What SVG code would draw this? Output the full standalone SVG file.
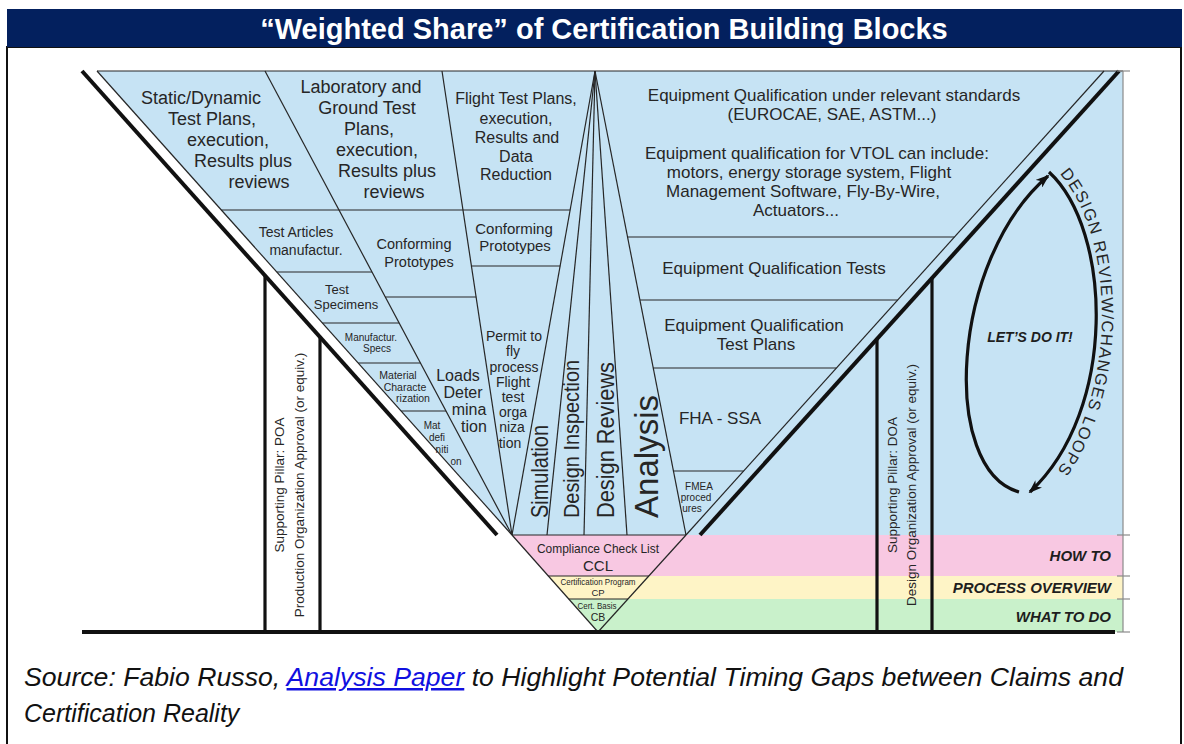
<svg xmlns="http://www.w3.org/2000/svg" width="1184" height="744" viewBox="0 0 1184 744">
  <style>
    .t { font-family: "Liberation Sans", Arial, sans-serif; fill: #262626; text-anchor: middle; }
    .bi { font-family: "Liberation Sans", Arial, sans-serif; font-weight: bold; font-style: italic; fill: #1e1e1e; }
    .ln { stroke: #262626; stroke-width: 1.2; fill: none; }
    .thick { stroke: #111; stroke-width: 4; fill: none; }
    .pillar { stroke: #111; stroke-width: 3.2; fill: none; }
    .scale { stroke: #8a8a8a; stroke-width: 1.2; fill: none; }
    .loop { stroke: #111; stroke-width: 3.2; fill: none; }
  </style>
  <defs>
    <marker id="head" viewBox="0 0 14 10" refX="12" refY="5" markerWidth="14" markerHeight="10" markerUnits="userSpaceOnUse" orient="auto">
      <path d="M0,0 L14,5 L0,10 L4,5 Z" fill="#111"/>
    </marker>
    <path id="loopText" d="M1054,168 C1118,228 1124,412 1034,498"/>
  </defs>

  <!-- page frame and title -->
  <rect x="7" y="47" width="1174" height="700" fill="#fff" stroke="#111" stroke-width="2"/>
  <rect x="7" y="9" width="1175" height="38" fill="#03205E"/>
  <text x="604" y="38.5" font-family="Liberation Sans, Arial, sans-serif" font-size="29" font-weight="bold" fill="#fff" text-anchor="middle">“Weighted Share” of Certification Building Blocks</text>

  <!-- background fields -->
  <g id="fields">
    <polygon points="97,71 1123,71 1123,535 512,535" fill="#C6E3F4"/>
    <polygon points="512,535 1123,535 1123,576 548.4,576" fill="#F8C8E2"/>
    <polygon points="548.4,576 1123,576 1123,599 568.7,599" fill="#FEF4C6"/>
    <polygon points="568.7,599 1123,599 1123,632 598,632" fill="#C9F1CB"/>
  </g>

  <!-- division lines -->
  <g id="grid">
    <line class="ln" x1="97" y1="71" x2="1123" y2="71" stroke="#555"/>
    <line class="ln" x1="97" y1="71" x2="512" y2="535"/>
    <line class="ln" x1="265" y1="71" x2="512" y2="535"/>
    <line class="ln" x1="442" y1="71" x2="512" y2="535"/>
    <line class="ln" x1="595" y1="71" x2="512" y2="535"/>
    <line class="ln" x1="595" y1="71" x2="547" y2="535"/>
    <line class="ln" x1="595" y1="71" x2="584" y2="535"/>
    <line class="ln" x1="595" y1="71" x2="627" y2="535"/>
    <line class="ln" x1="595" y1="71" x2="686" y2="535"/>
    <line class="ln" x1="1104" y1="71" x2="686" y2="535"/>
    <!-- left column rows -->
    <line class="ln" x1="221.3" y1="210" x2="570.1" y2="210"/>
    <line class="ln" x1="276.8" y1="272" x2="372" y2="272"/>
    <line class="ln" x1="385.3" y1="297" x2="476.1" y2="297"/>
    <line class="ln" x1="471.4" y1="266" x2="560.1" y2="266"/>
    <line class="ln" x1="322.4" y1="323" x2="399.1" y2="323"/>
    <line class="ln" x1="358.2" y1="363" x2="420.4" y2="363"/>
    <line class="ln" x1="401.1" y1="411" x2="446" y2="411"/>
    <!-- right column rows -->
    <line class="ln" x1="627.6" y1="237" x2="954.5" y2="237"/>
    <line class="ln" x1="639.9" y1="300" x2="897.7" y2="300"/>
    <line class="ln" x1="653.2" y1="368" x2="836.4" y2="368"/>
    <line class="ln" x1="673.4" y1="471" x2="743.6" y2="471"/>
    <!-- lower funnel -->
    <line class="ln" x1="512" y1="535" x2="686" y2="535"/>
    <line class="ln" x1="512" y1="535" x2="598" y2="632"/>
    <line class="ln" x1="686" y1="535" x2="598" y2="632"/>
    <line class="ln" x1="548.4" y1="576" x2="648.8" y2="576"/>
    <line class="ln" x1="568.7" y1="599" x2="627.9" y2="599"/>
    <!-- heavy outlines -->
    <line class="thick" x1="82" y1="71" x2="497" y2="535"/>
    <line class="thick" x1="700" y1="535" x2="1119" y2="71"/>
    <line class="thick" x1="82" y1="632" x2="1115" y2="632" stroke-width="3.6"/>
    <!-- right scale -->
    <line class="scale" x1="1123" y1="71" x2="1123" y2="632"/>
    <line class="scale" x1="1117" y1="71" x2="1130" y2="71"/>
    <line class="scale" x1="1117" y1="535" x2="1130" y2="535"/>
    <line class="scale" x1="1117" y1="576" x2="1130" y2="576"/>
    <line class="scale" x1="1117" y1="599" x2="1130" y2="599"/>
    <line class="scale" x1="1117" y1="632" x2="1130" y2="632"/>
  </g>

  <!-- column 1 -->
  <g id="static-dynamic" class="t" font-size="18">
    <text x="201" y="104">Static/Dynamic</text>
    <text x="212" y="125">Test Plans,</text>
    <text x="228" y="146">execution,</text>
    <text x="243" y="167">Results plus</text>
    <text x="259" y="188">reviews</text>
  </g>
  <g id="test-articles" class="t" font-size="14">
    <text x="296" y="237">Test Articles</text>
    <text x="306" y="255">manufactur.</text>
  </g>
  <g id="test-specimens" class="t" font-size="13">
    <text x="337" y="294">Test</text>
    <text x="346" y="309">Specimens</text>
  </g>
  <g id="manufactur-specs" class="t" font-size="10">
    <text x="371" y="340.5">Manufactur.</text>
    <text x="377" y="351.5">Specs</text>
  </g>
  <g id="material" class="t" font-size="10.5">
    <text x="398" y="378.5">Material</text>
    <text x="405" y="390.5">Characte</text>
    <text x="413" y="401.5">rization</text>
  </g>
  <g id="mat-definition" class="t" font-size="10">
    <text x="432" y="428.5">Mat</text>
    <text x="437" y="440.5">defi</text>
    <text x="442" y="452.5">niti</text>
    <text x="456" y="464.5">on</text>
  </g>

  <!-- column 2 -->
  <g id="lab-ground" class="t" font-size="18">
    <text x="361" y="93">Laboratory and</text>
    <text x="367" y="114">Ground Test</text>
    <text x="369" y="135">Plans,</text>
    <text x="377" y="156">execution,</text>
    <text x="387" y="177">Results plus</text>
    <text x="394" y="198">reviews</text>
  </g>
  <g id="conforming-1" class="t" font-size="14.5">
    <text x="414" y="249">Conforming</text>
    <text x="419" y="267">Prototypes</text>
  </g>
  <g id="loads" class="t" font-size="16">
    <text x="458" y="381">Loads</text>
    <text x="463" y="398">Deter</text>
    <text x="469" y="415">mina</text>
    <text x="474" y="432">tion</text>
  </g>

  <!-- column 3 -->
  <g id="flight-test" class="t" font-size="16">
    <text x="516" y="104">Flight Test Plans,</text>
    <text x="516" y="124">execution,</text>
    <text x="517" y="143">Results and</text>
    <text x="516" y="162">Data</text>
    <text x="516" y="180">Reduction</text>
  </g>
  <g id="conforming-2" class="t" font-size="15">
    <text x="514" y="234">Conforming</text>
    <text x="515" y="251">Prototypes</text>
  </g>
  <g id="permit" class="t" font-size="14">
    <text x="514" y="341">Permit to</text>
    <text x="513" y="356">fly</text>
    <text x="514" y="372">process</text>
    <text x="513" y="387">Flight</text>
    <text x="513" y="402">test</text>
    <text x="513" y="417">orga</text>
    <text x="512" y="432">niza</text>
    <text x="510" y="448">tion</text>
  </g>

  <!-- fan wedges -->
  <g id="simulation" class="t" style="text-anchor:start">
    <text transform="translate(548,518) rotate(-90)" font-size="24" textLength="93" lengthAdjust="spacingAndGlyphs">Simulation</text>
  </g>
  <g id="design-inspection" class="t" style="text-anchor:start">
    <text transform="translate(578.5,518) rotate(-90)" font-size="22" textLength="158" lengthAdjust="spacingAndGlyphs">Design Inspection</text>
  </g>
  <g id="design-reviews" class="t" style="text-anchor:start">
    <text transform="translate(613.5,518) rotate(-90)" font-size="23" textLength="156" lengthAdjust="spacingAndGlyphs">Design Reviews</text>
  </g>
  <g id="analysis" class="t" style="text-anchor:start">
    <text transform="translate(658,518) rotate(-90)" font-size="34" textLength="123" lengthAdjust="spacingAndGlyphs">Analysis</text>
  </g>

  <!-- right column -->
  <g id="equipment-qualification" class="t" font-size="17">
    <text x="834" y="101">Equipment Qualification under relevant standards</text>
    <text x="832" y="120">(EUROCAE, SAE, ASTM...)</text>
    <text x="817" y="159">Equipment qualification for VTOL can include:</text>
    <text x="809" y="178">motors, energy storage system, Flight</text>
    <text x="803" y="197">Management Software, Fly-By-Wire,</text>
    <text x="796" y="216">Actuators...</text>
  </g>
  <g id="eq-tests" class="t" font-size="17">
    <text x="774" y="274">Equipment Qualification Tests</text>
  </g>
  <g id="eq-test-plans" class="t" font-size="17">
    <text x="754" y="331">Equipment Qualification</text>
    <text x="756" y="350">Test Plans</text>
  </g>
  <g id="fha-ssa" class="t" font-size="17">
    <text x="720" y="424">FHA - SSA</text>
  </g>
  <g id="fmea" class="t" font-size="10">
    <text x="699" y="489.5">FMEA</text>
    <text x="696" y="500.5">proced</text>
    <text x="692" y="511.5">ures</text>
  </g>

  <!-- lower funnel -->
  <g id="ccl" class="t">
    <text x="598" y="552.5" font-size="13.5" textLength="122" lengthAdjust="spacingAndGlyphs">Compliance Check List</text>
    <text x="598" y="571" font-size="15">CCL</text>
  </g>
  <g id="cp" class="t">
    <text x="598" y="585" font-size="8.5" textLength="75" lengthAdjust="spacingAndGlyphs">Certification Program</text>
    <text x="598" y="595.5" font-size="9.5">CP</text>
  </g>
  <g id="cb" class="t">
    <text x="597" y="608.5" font-size="9" textLength="39" lengthAdjust="spacingAndGlyphs">Cert. Basis</text>
    <text x="598" y="621" font-size="10.5">CB</text>
  </g>

  <!-- band labels -->
  <g id="band-labels" class="bi" font-size="15" text-anchor="end">
    <text x="1111" y="560.5">HOW TO</text>
    <text x="1111" y="593">PROCESS OVERVIEW</text>
    <text x="1111" y="621.5">WHAT TO DO</text>
  </g>

  <!-- supporting pillars -->
  <g id="poa-pillar">
    <line class="pillar" x1="265" y1="275" x2="265" y2="632"/>
    <line class="pillar" x1="320" y1="337" x2="320" y2="632"/>
    <text class="t" font-size="13.5" transform="translate(283.5,485) rotate(-90)">Supporting Pillar: POA</text>
    <text class="t" font-size="13.5" transform="translate(303.5,485) rotate(-90)">Production Organization Approval (or equiv.)</text>
  </g>
  <g id="doa-pillar">
    <line class="pillar" x1="877" y1="338" x2="877" y2="632"/>
    <line class="pillar" x1="932" y1="277" x2="932" y2="632"/>
    <text class="t" font-size="13.5" transform="translate(897,485) rotate(-90)">Supporting Pillar: DOA</text>
    <text class="t" font-size="13.5" transform="translate(915.5,485) rotate(-90)">Design Organization Approval (or equiv.)</text>
  </g>

  <!-- review loop -->
  <g id="connectors">
    <path class="loop" d="M1019,492 C940,470 950,260 1048,176" marker-end="url(#head)"/>
    <path class="loop" d="M1049,172 C1112,230 1118,410 1030,492" marker-end="url(#head)"/>
  </g>
  <g id="loop-label">
    <text font-family="Liberation Sans, Arial, sans-serif" font-size="16.5" letter-spacing="1.3" fill="#262626"><textPath href="#loopText" startOffset="8">DESIGN REVIEW/CHANGES LOOPS</textPath></text>
  </g>
  <g id="lets-do-it">
    <text class="bi" x="1030" y="342" font-size="14" text-anchor="middle">LET’S DO IT!</text>
  </g>

  <!-- source note -->
  <g id="source" font-family="Liberation Sans, Arial, sans-serif" font-style="italic" font-size="25" fill="#111">
    <text x="24" y="686" textLength="1099" lengthAdjust="spacingAndGlyphs">Source: Fabio Russo, <tspan fill="#1010E0" text-decoration="underline">Analysis Paper</tspan> to Highlight Potential Timing Gaps between Claims and</text>
    <text x="24" y="722">Certification Reality</text>
  </g>
</svg>
